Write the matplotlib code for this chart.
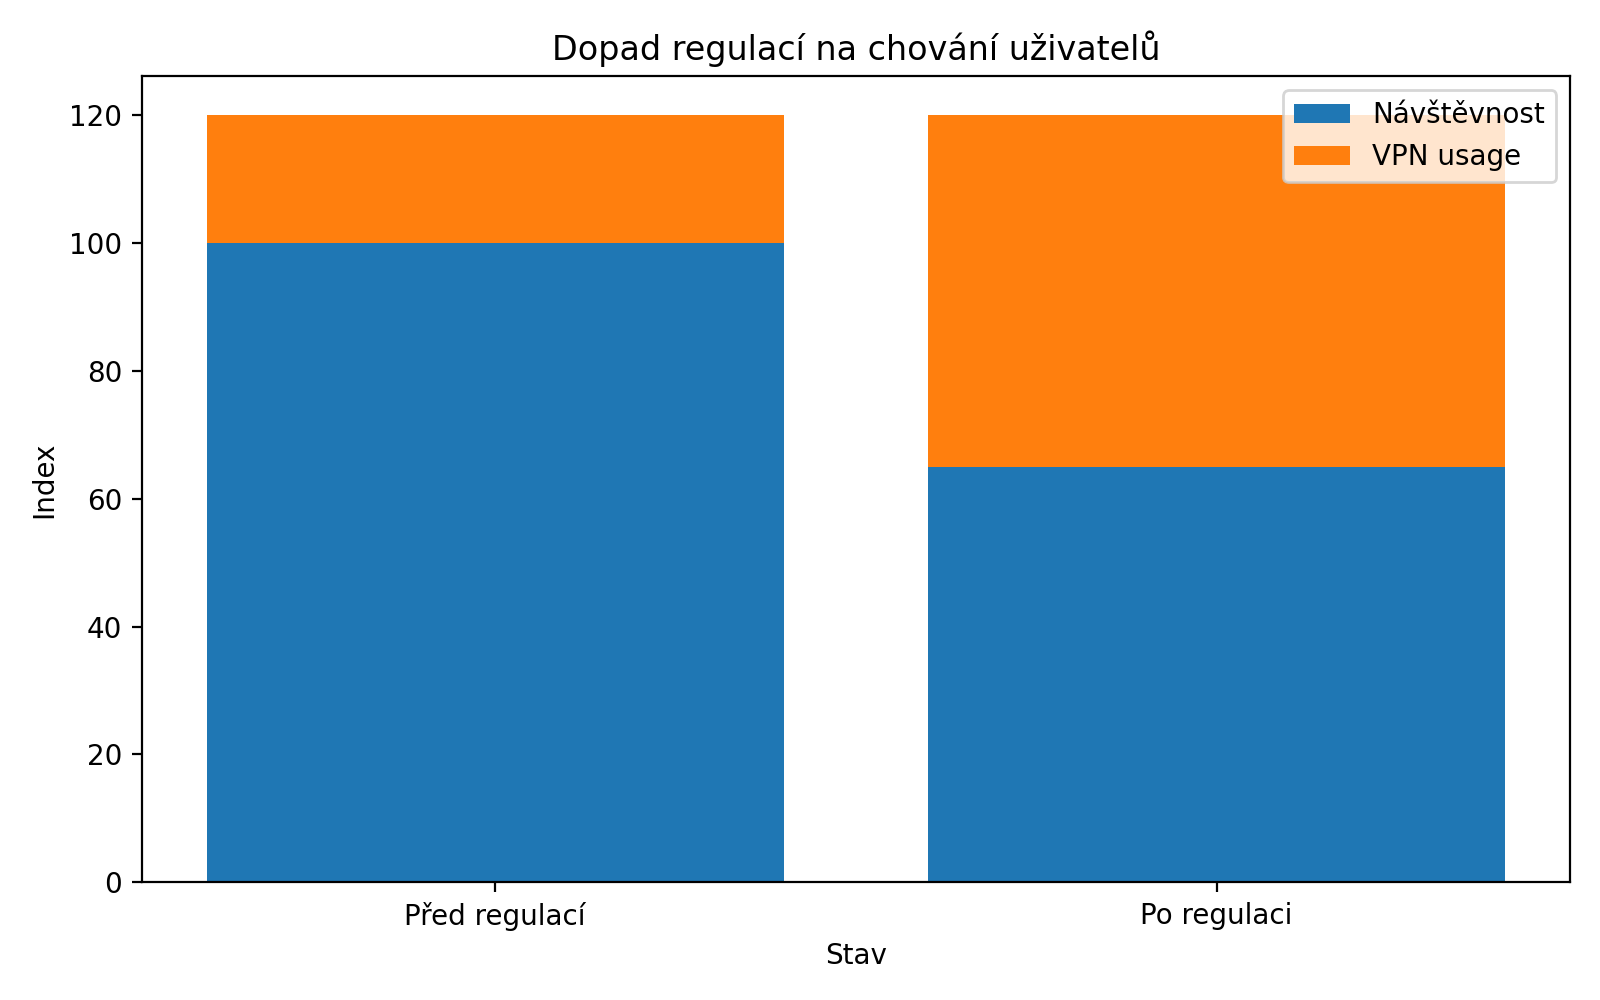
import numpy as np
import matplotlib
matplotlib.use("Agg")
import matplotlib.pyplot as plt

# data
states = ["Před regulací", "Po regulaci"]
navstevnost = [100, 65]
vpn_usage = [20, 55]


fig, ax = plt.subplots(figsize=(8, 5), dpi=200)

ax.bar(states, navstevnost, label="Návštěvnost")
ax.bar(states, vpn_usage, bottom=navstevnost, label="VPN usage")

ax.set_title("Dopad regulací na chování uživatelů")
ax.set_xlabel("Stav")
ax.set_ylabel("Index")
ax.legend(loc="upper right")

fig.tight_layout()
fig.savefig("out.png")
